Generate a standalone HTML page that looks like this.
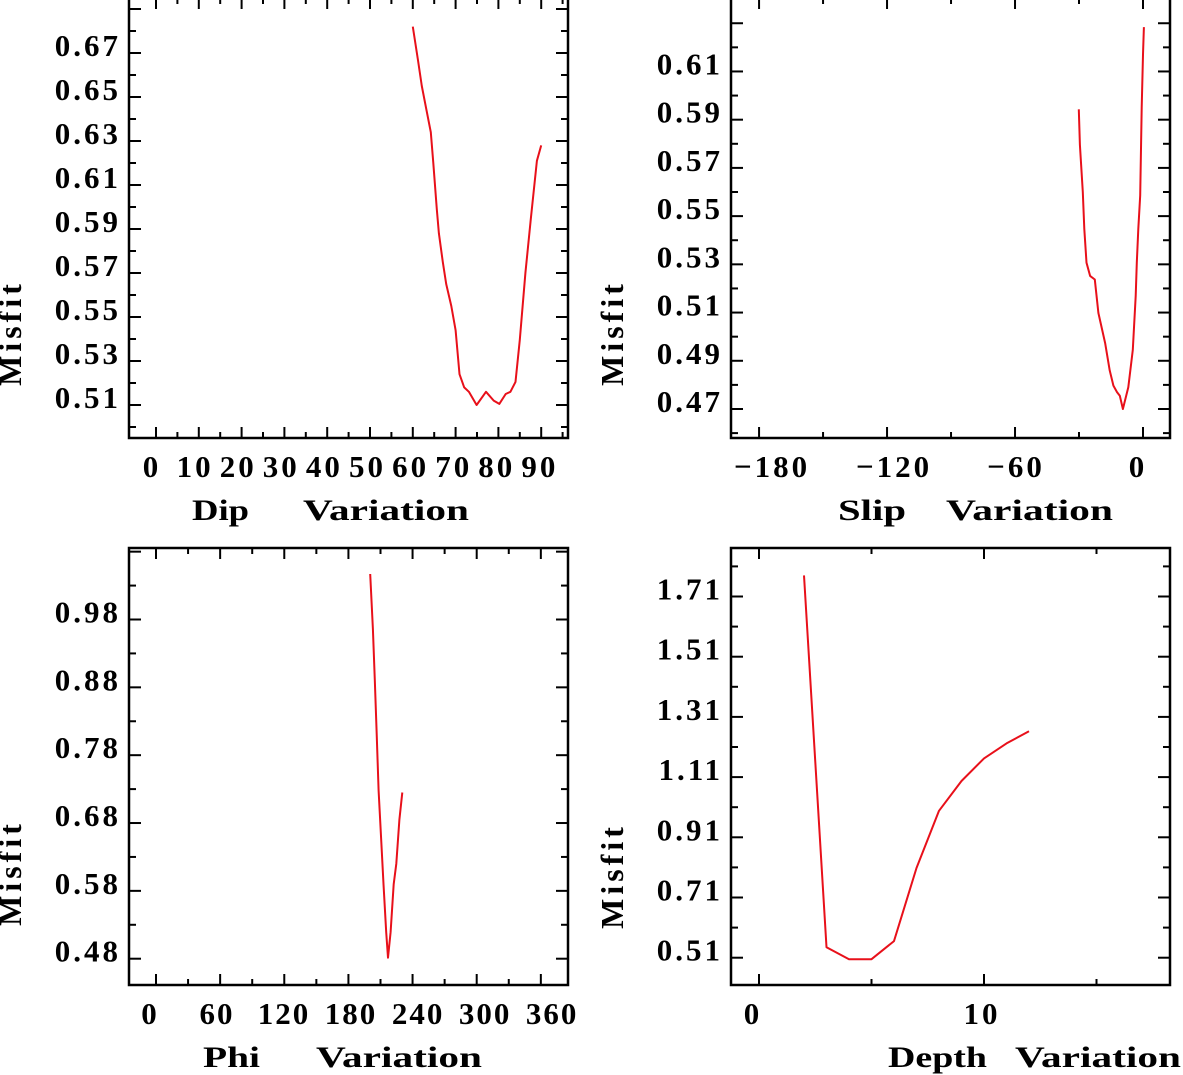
<!DOCTYPE html>
<html><head><meta charset="utf-8"><style>
html,body{margin:0;padding:0;background:#fff;}
svg{display:block;}
text{font-family:"Liberation Serif",serif;font-weight:bold;fill:#000;}
</style></head><body>
<svg id="chart" width="1183" height="1075" viewBox="0 0 1183 1075" xmlns="http://www.w3.org/2000/svg"></svg>
<script>
// ---- Dip panel data ----
const dipX = [60,61.2,62.1,63.2,64.2,64.8,65.6,66.1,67,67.8,69,70,70.9,72,73.1,74.9,77.1,78.9,80.2,81.7,82.8,84,85,86.3,87.6,89,90];
const dipY = [0.682,0.667,0.655,0.644,0.634,0.620,0.599,0.588,0.575,0.565,0.555,0.544,0.524,0.518,0.516,0.510,0.516,0.512,0.5105,0.515,0.516,0.5205,0.5396,0.570,0.595,0.621,0.628];
const dipXTicks = ["0","10","20","30","40","50","60","70","80","90"];
const dipYTicks = ["0.51","0.53","0.55","0.57","0.59","0.61","0.63","0.65","0.67"];
// ---- Slip panel data ----
const slipX = [-30.1,-29.6,-28.2,-27.5,-26.5,-24.8,-22.6,-20.9,-17.7,-15.6,-13.9,-12.2,-10.9,-9.4,-6.9,-4.8,-3.4,-2.9,-2.2,-1.3,-0.6,0,0.4];
const slipY = [0.5943,0.5796,0.560,0.5447,0.5307,0.5252,0.5237,0.5098,0.4972,0.486,0.4797,0.477,0.4755,0.470,0.479,0.4945,0.5169,0.5307,0.5447,0.5586,0.595,0.617,0.6284];
const slipXTicks = ["-180","-120","-60","0"];
const slipYTicks = ["0.47","0.49","0.51","0.53","0.55","0.57","0.59","0.61"];
// ---- Phi panel data ----
const phiX = [200.4,202.9,204.7,206.5,208.2,210.7,212.8,215.3,217,219.5,222.4,224.8,227.7,230.4];
const phiY = [1.047,0.966,0.891,0.811,0.728,0.655,0.590,0.519,0.4815,0.519,0.590,0.620,0.685,0.725];
const phiXTicks = ["0","60","120","180","240","300","360"];
const phiYTicks = ["0.48","0.58","0.68","0.78","0.88","0.98"];
// ---- Depth panel data ----
const depthX = [2,3,4,5,6,7,8,9,10,11,12];
const depthY = [1.78,0.545,0.505,0.505,0.565,0.808,0.998,1.097,1.172,1.222,1.262];
const depthXTicks = ["0","10"];
const depthYTicks = ["0.51","0.71","0.91","1.11","1.31","1.51","1.71"];

const NS = "http://www.w3.org/2000/svg";
const svg = document.getElementById('chart');
function mk(tag, attrs, parent){
  const e = document.createElementNS(NS, tag);
  for (const k in attrs) e.setAttribute(k, attrs[k]);
  (parent||svg).appendChild(e);
  return e;
}
function panel(cfg){
  const g = mk('g', {});
  
  
  const sx = v => cfg.x0px + (v - cfg.x0) * cfg.xs;
  const sy = v => cfg.y0px - (v - cfg.y0) * cfg.ys;
  const f = cfg.frame;
  for (let v = cfg.xMinorStart; v <= cfg.xMinorEnd + 1e-9; v += cfg.xMinor){
    const major = Math.abs(((v - cfg.xMajorBase) / cfg.xMajor) - Math.round((v - cfg.xMajorBase) / cfg.xMajor)) < 1e-6;
    const L = major ? 11 : 6;
    const px = sx(v);
    const t1 = mk('line', {x1:px, x2:px, y1:f.b, y2:f.b - L, stroke:'#000','stroke-width':2}, g);
    
    
    const t2 = mk('line', {x1:px, x2:px, y1:f.t, y2:f.t + L, stroke:'#000','stroke-width':2}, g);
    
    
  }
  for (let v = cfg.yMinorStart; v <= cfg.yMinorEnd + 1e-9; v += cfg.yMinor){
    const r = (v - cfg.y0) / cfg.yMajor;
    const major = Math.abs(r - Math.round(r)) < 1e-6;
    const L = major ? 12 : 7;
    const py = sy(v);
    if (py < f.t + 2 || py > f.b - 2) continue;
    const t1 = mk('line', {x1:f.l, x2:f.l + L, y1:py, y2:py, stroke:'#000','stroke-width':2}, g);
    
    
    const t2 = mk('line', {x1:f.r, x2:f.r - L, y1:py, y2:py, stroke:'#000','stroke-width':2}, g);
    
    
  }
  const fr = mk('rect', {x:f.l, y:f.t, width:f.r - f.l, height:f.b - f.t, fill:'none', stroke:'#000','stroke-width':2.5}, g);
  
  
  cfg.xTicks.forEach(s => {
    const v = parseFloat(s);
    const t = mk('text', {x: cfg.xLabPx(v, sx(v)), y: cfg.xLabY, 'font-size':31, 'text-anchor':'middle', 'letter-spacing':cfg.xls}, g);
    t.textContent = s.replace('-', '\u2212');
    
    
  });
  cfg.yTicks.forEach(s => {
    const v = parseFloat(s);
    const t = mk('text', {x: cfg.yLabX, y: sy(v) + 3, 'font-size':31, 'text-anchor':'end', 'letter-spacing':3}, g);
    t.textContent = s;
    
    
  });
  const pts = cfg.xs_data.map((x, i) => sx(x).toFixed(1) + ',' + sy(cfg.ys_data[i]).toFixed(1)).join(' ');
  const pl = mk('polyline', {points: pts, fill:'none', stroke:'#e8101a', 'stroke-width':2, 'stroke-linejoin':'round'}, g);
  
  
  const yt = mk('text', {x:0, y:0, 'font-size':32, 'text-anchor':'middle', 'letter-spacing':4, transform:'translate(' + (cfg.ytX) + ',' + cfg.ytY + ') rotate(-90)'}, g);
  yt.textContent = 'Misfit';
  
  
  const a = mk('text', {x:cfg.t1[0], y:cfg.tY, 'font-size':30, textLength:cfg.t1[1], lengthAdjust:'spacingAndGlyphs'}, g);
  a.textContent = cfg.title1;
  
  
  const b = mk('text', {x:cfg.t2[0], y:cfg.tY, 'font-size':30, textLength:cfg.t2[1], lengthAdjust:'spacingAndGlyphs'}, g);
  b.textContent = 'Variation';
  
  
}

panel({name:'dip', frame:{l:129,r:568,t:-2,b:438}, x0:0, x0px:156, xs:4.28, y0:0.51, y0px:405, ys:2200,
  xMinorStart:0, xMinorEnd:95, xMinor:5, xMajor:10, xMajorBase:0,
  yMinorStart:0.50, yMinorEnd:0.69, yMinor:0.01, yMajor:0.02,
  xTicks:dipXTicks, yTicks:dipYTicks, xLabY:477, xls:3, xLabPx:(v,p)=>p - 4 + v*0.03, yLabX:121,
  xs_data:dipX, ys_data:dipY, ytX:21, ytY:333, title1:'Dip', t1:[192,57], t2:[303,166], tY:520});

panel({name:'slip', frame:{l:731,r:1170,t:-2,b:438}, x0:0, x0px:1143, xs:2.133, y0:0.47, y0px:409, ys:2411,
  xMinorStart:-180, xMinorEnd:0, xMinor:30, xMajor:60, xMajorBase:0,
  yMinorStart:0.46, yMinorEnd:0.64, yMinor:0.01, yMajor:0.02,
  xTicks:slipXTicks, yTicks:slipYTicks, xLabY:477, xls:3, xLabPx:(v,p)=>p - 5 - v*0.1, yLabX:723,
  xs_data:slipX, ys_data:slipY, ytX:623, ytY:333, title1:'Slip', t1:[838,68], t2:[946,167], tY:520});

panel({name:'phi', frame:{l:129,r:568,t:548,b:985}, x0:0, x0px:156, xs:1.069, y0:0.48, y0px:958.7, ys:678.4,
  xMinorStart:0, xMinorEnd:360, xMinor:30, xMajor:60, xMajorBase:0,
  yMinorStart:0.43, yMinorEnd:1.08, yMinor:0.05, yMajor:0.10,
  xTicks:phiXTicks, yTicks:phiYTicks, xLabY:1024, xls:2, xLabPx:(v,p)=>p - 6 + v*0.048, yLabX:121,
  xs_data:phiX, ys_data:phiY, ytX:21, ytY:873, title1:'Phi', t1:[203,57], t2:[316,166], tY:1067});

panel({name:'depth', frame:{l:731,r:1170,t:548,b:985}, x0:0, x0px:759, xs:22.5, y0:0.51, y0px:957.7, ys:301,
  xMinorStart:0, xMinorEnd:15, xMinor:5, xMajor:10, xMajorBase:0,
  yMinorStart:0.41, yMinorEnd:1.86, yMinor:0.10, yMajor:0.20,
  xTicks:depthXTicks, yTicks:depthYTicks, xLabY:1024, xls:3, xLabPx:(v,p)=>p - 6 + v*0.4, yLabX:723,
  xs_data:depthX, ys_data:depthY, ytX:623, ytY:876, title1:'Depth', t1:[888,99], t2:[1015,166], tY:1067});
</script>
</body></html>
